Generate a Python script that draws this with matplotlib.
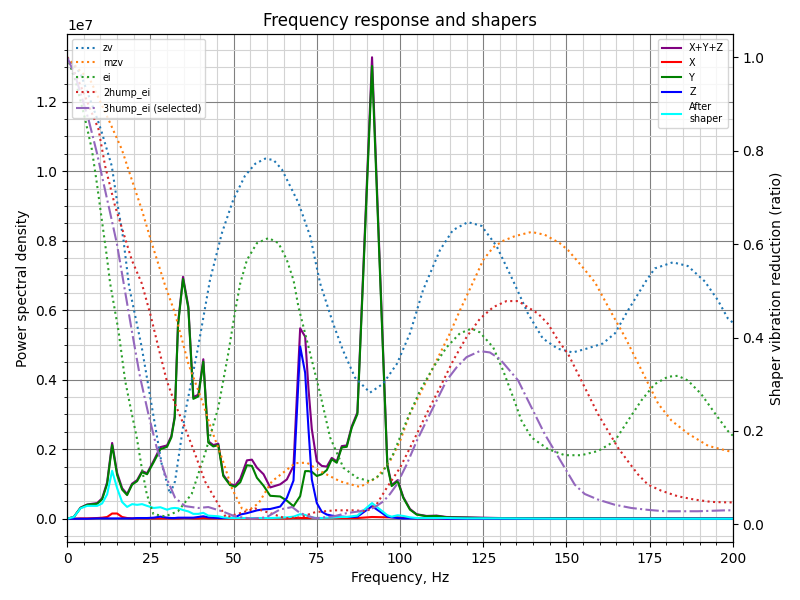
#!/usr/bin/env python3
"""
plot.py — resonance test: frequency response + input shaper curves
"""
import matplotlib
matplotlib.use('Agg')
import matplotlib.pyplot as plt
import matplotlib.ticker as mticker
from matplotlib.font_manager import FontProperties

PSD_SCALE = 1e7
MAX_FREQ = 200
SELECTED = '3hump_ei'

# ─── PSD bins (Hz) and power spectral density (units of 1e7) ───
freqs = [0, 2, 4, 6, 9, 10.5, 12, 13.5, 15, 16.5,
         18, 19.5, 21, 22.5, 24, 26, 28, 30, 31.3, 32.3,
         33.3, 34.8, 36.4, 37.9, 39.4, 40.9, 42.4, 43.9, 45.4, 46.9,
         48.9, 50.5, 52, 54, 55.5, 57, 59, 61, 64, 66,
         68, 70, 71.5, 72.5, 73.5, 75, 76.5, 78, 79.5, 81,
         82.5, 84, 85.5, 87.2, 91.6, 96.2, 97.5, 99.3, 101, 103,
         105, 108, 111, 114, 120, 130, 150, 200]

psd_y = [0, 0.005, 0.031, 0.040, 0.043, 0.056, 0.100, 0.212, 0.126, 0.084,
         0.068, 0.098, 0.108, 0.134, 0.128, 0.163, 0.200, 0.207, 0.234, 0.290,
         0.557, 0.690, 0.606, 0.345, 0.352, 0.452, 0.219, 0.208, 0.212, 0.123,
         0.097, 0.092, 0.105, 0.154, 0.152, 0.118, 0.095, 0.066, 0.064, 0.052,
         0.036, 0.065, 0.137, 0.137, 0.135, 0.123, 0.128, 0.140, 0.171, 0.161,
         0.205, 0.207, 0.262, 0.301, 1.303, 0.152, 0.094, 0.108, 0.060, 0.026,
         0.012, 0.007, 0.008, 0.004, 0.003, 0.001, 0.001, 0.000]

psd_xyz = [0, 0.005, 0.032, 0.041, 0.045, 0.059, 0.105, 0.218, 0.132, 0.088,
           0.071, 0.101, 0.111, 0.137, 0.131, 0.167, 0.206, 0.211, 0.238, 0.294,
           0.561, 0.696, 0.611, 0.350, 0.357, 0.459, 0.223, 0.212, 0.216, 0.126,
           0.100, 0.096, 0.115, 0.168, 0.170, 0.147, 0.128, 0.090, 0.099, 0.113,
           0.152, 0.548, 0.524, 0.374, 0.258, 0.165, 0.152, 0.150, 0.175, 0.165,
           0.209, 0.211, 0.266, 0.306, 1.328, 0.156, 0.097, 0.111, 0.062, 0.028,
           0.013, 0.008, 0.009, 0.005, 0.004, 0.002, 0.001, 0.001]

psd_x = [0, 0, 0.001, 0.001, 0.002, 0.003, 0.005, 0.015, 0.015, 0.005,
         0.002, 0.001, 0.001, 0.001, 0.001, 0.001, 0.001, 0.001, 0.001, 0.001,
         0.001, 0.002, 0.002, 0.001, 0.001, 0.002, 0.001, 0.001, 0.001, 0.001,
         0.001, 0.001, 0.001, 0.001, 0.001, 0.001, 0.001, 0.001, 0.001, 0.001,
         0.002, 0.002, 0.002, 0.002, 0.002, 0.002, 0.002, 0.002, 0.002, 0.002,
         0.002, 0.002, 0.002, 0.002, 0.005, 0.004, 0.004, 0.004, 0.003, 0.002,
         0.001, 0.001, 0.001, 0, 0, 0, 0, 0]

psd_z = [0, 0, 0, 0, 0.001, 0.001, 0.001, 0.001, 0.001, 0.001,
         0.001, 0.001, 0.002, 0.002, 0.002, 0.003, 0.006, 0.003, 0.002, 0.002,
         0.003, 0.003, 0.003, 0.003, 0.005, 0.007, 0.004, 0.003, 0.002, 0.002,
         0.002, 0.004, 0.012, 0.016, 0.020, 0.024, 0.027, 0.028, 0.035, 0.060,
         0.110, 0.496, 0.420, 0.258, 0.113, 0.045, 0.020, 0.012, 0.009, 0.007,
         0.006, 0.005, 0.005, 0.006, 0.036, 0.006, 0.004, 0.002, 0.001, 0.001,
         0.001, 0.001, 0.001, 0, 0, 0, 0, 0]

psd_after = [0, 0.005, 0.030, 0.037, 0.037, 0.044, 0.070, 0.138, 0.088, 0.048,
             0.034, 0.042, 0.040, 0.042, 0.037, 0.031, 0.033, 0.026, 0.030, 0.031,
             0.030, 0.025, 0.021, 0.014, 0.014, 0.017, 0.009, 0.008, 0.007, 0.004,
             0.002, 0.002, 0.002, 0.002, 0.002, 0.002, 0.002, 0.002, 0.003, 0.004,
             0.006, 0.013, 0.011, 0.007, 0.004, 0.002, 0.002, 0.003, 0.003, 0.004,
             0.005, 0.005, 0.007, 0.009, 0.045, 0.010, 0.006, 0.010, 0.008, 0.004,
             0.002, 0.002, 0.002, 0.002, 0.001, 0.001, 0, 0]

# ─── Shaper vibration reduction curves (ratio) ─────────────────
zv_freq = [0, 4, 9.1, 10.4, 11.9, 13.4, 14.9, 16.9, 18.6, 22.4,
           25.8, 28.4, 30.9, 32.4, 35.4, 39.3, 42.9, 46.5, 49.9, 53.4,
           56.5, 59.5, 62, 64.5, 69.5, 73, 76, 79.9, 82.9, 86.5,
           91, 94.9, 99.1, 103, 106.9, 112, 115.9, 120.4, 124.5, 129,
           133.9, 138.4, 142.9, 147.4, 151.9, 156, 160.9, 164.6, 168.5, 174.1,
           176.6, 182, 186.5, 191.6, 195.5, 198.5, 200]
zv_vals = [1.0, 0.965, 0.867, 0.839, 0.803, 0.767, 0.695, 0.609, 0.509, 0.379,
           0.237, 0.129, 0.065, 0.092, 0.237, 0.378, 0.523, 0.624, 0.695, 0.746,
           0.772, 0.783, 0.780, 0.760, 0.688, 0.617, 0.516, 0.430, 0.372, 0.314,
           0.282, 0.301, 0.344, 0.409, 0.501, 0.587, 0.630, 0.647, 0.639, 0.596,
           0.523, 0.452, 0.398, 0.376, 0.368, 0.376, 0.387, 0.409, 0.458, 0.523,
           0.548, 0.561, 0.553, 0.520, 0.480, 0.441, 0.432]

mzv_freq = [0, 4, 7, 12.4, 16.4, 19.4, 22.4, 25.4, 29.4, 32.4,
            36.4, 40.5, 43.5, 46.5, 49.5, 52.5, 54.5, 57.5, 61.5, 65.5,
            68.5, 72, 76, 82, 88, 93, 97, 100, 103, 107,
            111, 115, 118, 122, 125, 128, 131, 134.5, 139.5, 143.5,
            148, 150.5, 154.6, 158.6, 163.6, 167.6, 171.6, 174.6, 177.6, 181.6,
            186.6, 192.6, 198.6, 200]
mzv_vals = [1.0, 0.97, 0.95, 0.867, 0.803, 0.738, 0.674, 0.602, 0.512, 0.452,
            0.344, 0.265, 0.200, 0.142, 0.077, 0.034, 0.030, 0.045, 0.092, 0.114,
            0.131, 0.132, 0.114, 0.092, 0.080, 0.100, 0.135, 0.178, 0.237, 0.293,
            0.351, 0.409, 0.458, 0.519, 0.566, 0.593, 0.607, 0.617, 0.626, 0.620,
            0.602, 0.587, 0.553, 0.518, 0.452, 0.401, 0.344, 0.301, 0.258, 0.222,
            0.194, 0.168, 0.157, 0.155]

ei_freq = [0, 2.5, 5.4, 7.4, 8.9, 10.4, 11.9, 12.9, 15.4, 17.4,
           19.4, 20.9, 22.4, 23.9, 25.9, 29.4, 33.3, 37.4, 41.4, 45.4,
           48.4, 50.5, 52, 54, 57, 60.5, 63.5, 66, 68, 69.5,
           73, 76, 79, 83, 87, 91, 94.5, 98, 102, 106,
           110, 114, 118, 121.5, 124, 128, 131, 134, 136.5, 139.5,
           144.5, 149.5, 154.5, 159.5, 164.5, 168.5, 172.5, 176.5, 180.5, 183.5,
           186.5, 190.5, 194.5, 198.5, 200]
ei_vals = [1.0, 0.95, 0.867, 0.803, 0.731, 0.652, 0.574, 0.516, 0.415, 0.308,
           0.237, 0.186, 0.121, 0.065, 0.022, 0.017, 0.028, 0.065, 0.151, 0.250,
           0.366, 0.458, 0.516, 0.566, 0.602, 0.613, 0.602, 0.566, 0.523, 0.465,
           0.366, 0.280, 0.186, 0.121, 0.100, 0.092, 0.108, 0.151, 0.222, 0.286,
           0.336, 0.379, 0.409, 0.419, 0.411, 0.379, 0.329, 0.272, 0.222, 0.186,
           0.161, 0.148, 0.148, 0.157, 0.178, 0.222, 0.265, 0.300, 0.316, 0.318,
           0.308, 0.279, 0.239, 0.200, 0.190]

hump2_freq = [0, 4, 9.4, 11.4, 14.4, 16.9, 19.4, 22.4, 24.9, 27.4,
              29.9, 32.4, 35.4, 38.4, 41.4, 45.4, 47.7, 52, 56.5, 61,
              65.5, 70, 74.5, 80.5, 86.5, 90, 93, 96, 100, 104,
              108, 112, 116, 120, 124, 128, 132, 135.5, 137.5, 141.5,
              144.5, 147.5, 150.5, 153.5, 156.5, 159.5, 162.5, 165.5, 168.5, 171.5,
              174.5, 178.5, 183.5, 188.5, 193.5, 198.5, 200]
hump2_vals = [1.0, 0.94, 0.846, 0.767, 0.681, 0.624, 0.566, 0.516, 0.452, 0.379,
              0.308, 0.258, 0.207, 0.151, 0.092, 0.043, 0.015, 0.024, 0.034, 0.024,
              0.013, 0.015, 0.026, 0.030, 0.030, 0.028, 0.043, 0.078, 0.121, 0.178,
              0.237, 0.293, 0.351, 0.401, 0.440, 0.465, 0.478, 0.478, 0.469, 0.451,
              0.429, 0.394, 0.365, 0.322, 0.279, 0.236, 0.200, 0.164, 0.135, 0.107,
              0.085, 0.072, 0.060, 0.053, 0.048, 0.047, 0.047]

hump3_freq = [0, 2.4, 6.4, 8.9, 10.9, 12.9, 14.9, 16.9, 19.4, 21.9,
              24.4, 26.9, 29.4, 32.4, 35.4, 39.4, 42.4, 46.5, 50.5, 55.5,
              59.8, 64, 67.6, 70, 74.5, 80, 84, 88, 92, 95,
              97, 99, 102, 105, 108, 111, 114, 117, 120, 124,
              127, 130, 133, 135.5, 137.5, 140.5, 143.5, 146.5, 149.5, 152.5,
              155.5, 159.5, 164.5, 169.5, 174.5, 179.5, 184.5, 189.5, 198, 200]
hump3_vals = [1.0, 0.961, 0.867, 0.796, 0.731, 0.667, 0.602, 0.519, 0.415, 0.315,
              0.236, 0.164, 0.107, 0.057, 0.039, 0.035, 0.037, 0.028, 0.017, 0.012,
              0.015, 0.032, 0.037, 0.024, 0.013, 0.017, 0.024, 0.028, 0.035, 0.049,
              0.065, 0.085, 0.128, 0.178, 0.222, 0.265, 0.308, 0.336, 0.358, 0.371,
              0.368, 0.354, 0.329, 0.308, 0.279, 0.236, 0.193, 0.157, 0.121, 0.085,
              0.065, 0.053, 0.042, 0.035, 0.031, 0.028, 0.028, 0.028, 0.030, 0.030]

shapers = [
    ('zv',       zv_freq,    zv_vals),
    ('mzv',      mzv_freq,   mzv_vals),
    ('ei',       ei_freq,    ei_vals),
    ('2hump_ei', hump2_freq, hump2_vals),
    ('3hump_ei', hump3_freq, hump3_vals),
]


def scaled(vals):
    return [v * PSD_SCALE for v in vals]


fontP = FontProperties()
fontP.set_size('x-small')

fig, ax = plt.subplots(figsize=(8, 6), dpi=100)
fig.subplots_adjust(left=0.084, right=0.916, bottom=0.097, top=0.943)

ax.set_xlabel('Frequency, Hz')
ax.set_xlim([0, MAX_FREQ])
ax.set_ylabel('Power spectral density')

ax.plot(freqs, scaled(psd_xyz), label='X+Y+Z', color='purple')
ax.plot(freqs, scaled(psd_x), label='X', color='red')
ax.plot(freqs, scaled(psd_y), label='Y', color='green')
ax.plot(freqs, scaled(psd_z), label='Z', color='blue')

ax.set_title('Frequency response and shapers')
ax.xaxis.set_minor_locator(mticker.MultipleLocator(5))
ax.yaxis.set_minor_locator(mticker.AutoMinorLocator())
ax.ticklabel_format(axis='y', style='scientific', scilimits=(0, 0))
ax.grid(which='major', color='grey')
ax.grid(which='minor', color='lightgrey')

# ── shaper responses on the right axis ──
ax2 = ax.twinx()
ax2.set_ylabel('Shaper vibration reduction (ratio)')
for name, sf, sv in shapers:
    label = name
    linestyle = 'dotted'
    if name == SELECTED:
        label = '%s (selected)' % name
        linestyle = 'dashdot'
    ax2.plot(sf, sv, label=label, linestyle=linestyle)

ax.plot(freqs, scaled(psd_after), label='After\nshaper', color='cyan')

ax.legend(loc='upper right', prop=fontP)
ax2.legend(loc='upper left', prop=fontP)

fig.savefig('out.png', dpi=100)
plt.close(fig)
